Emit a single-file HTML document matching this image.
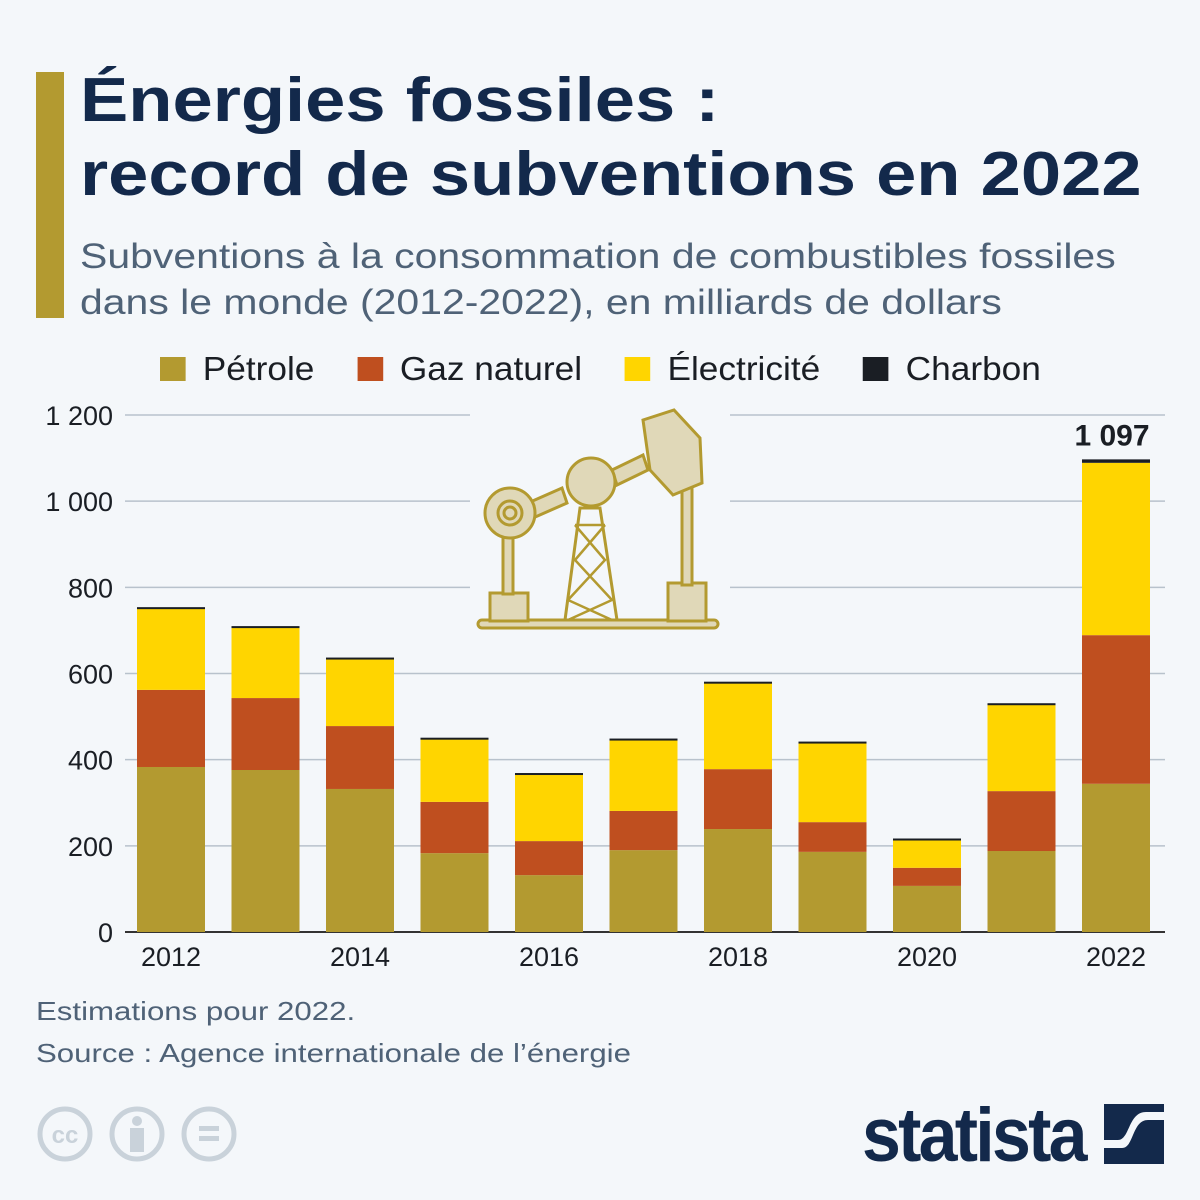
<!DOCTYPE html>
<html><head><meta charset="utf-8"><style>
*{margin:0;padding:0;box-sizing:border-box}
body{width:1200px;height:1200px;background:#f4f7fa;font-family:"Liberation Sans",sans-serif;position:relative;overflow:hidden}
.abs{position:absolute}
</style></head><body>
<div class="abs" style="left:36px;top:72px;width:28px;height:246px;background:#b39a30"></div>
<div class="abs" style="left:80px;top:64px;font-size:62px;font-weight:bold;color:#13294b;line-height:74px;white-space:nowrap;transform:scaleX(1.167);transform-origin:left top">Énergies fossiles :<br>record de subventions en 2022</div>
<div class="abs" style="left:80px;top:234px;font-size:35px;color:#4f6277;line-height:46px;white-space:nowrap;transform:scaleX(1.17);transform-origin:left top">Subventions à la consommation de combustibles fossiles<br>dans le monde (2012-2022), en milliards de dollars</div>
<div class="abs" style="left:160px;top:350px;font-size:33px;color:#1a1e24;display:flex;white-space:nowrap;transform:scaleX(1.068);transform-origin:left top">
 <span style="display:flex;align-items:center;margin-right:40px"><i style="display:inline-block;width:24px;height:24px;background:#b39a30;margin-right:16px"></i>Pétrole</span>
 <span style="display:flex;align-items:center;margin-right:40px"><i style="display:inline-block;width:24px;height:24px;background:#bf4f1f;margin-right:16px"></i>Gaz naturel</span>
 <span style="display:flex;align-items:center;margin-right:40px"><i style="display:inline-block;width:24px;height:24px;background:#ffd500;margin-right:16px"></i>Électricité</span>
 <span style="display:flex;align-items:center"><i style="display:inline-block;width:24px;height:24px;background:#1a1e24;margin-right:16px"></i>Charbon</span>
</div>
<svg class="abs" style="left:0;top:0" width="1200" height="1000">
<g id="grid"></g>
<g id="icon" fill="#e0d8b8" stroke="#b39a30" stroke-width="3">
 <rect x="470" y="400" width="260" height="232" fill="#f4f7fa" stroke="none"/>
 <rect x="478" y="620" width="240" height="8" rx="4"/>
 <rect x="490" y="593" width="38" height="28"/>
 <rect x="668" y="583" width="38" height="38"/>
 <rect x="503" y="520" width="10" height="74"/>
 <rect x="682" y="475" width="10" height="110"/>
 <polygon points="528,503 562,488 567,503 533,518"/>
 <polygon points="612,470 643,455 648,470 617,485"/>
 <polygon points="565,620 580,508 600,508 617,620" fill="none"/>
 <path d="M575,525 L605,560 L568,600 L612,620 M605,525 L575,560 L612,600 L568,620 M575,525 H605" fill="none" stroke-width="2.5"/>
 <circle cx="510" cy="513" r="25"/>
 <circle cx="510" cy="513" r="12" fill="none"/><circle cx="510" cy="513" r="6" fill="none"/>
 <circle cx="591" cy="482" r="24"/>
 <polygon points="643,420 674,410 700,438 702,483 673,495 650,470"/>
</g>
<g id="bars"></g>
<g id="labels"></g>
</svg>
<div class="abs" style="left:36px;top:990px;font-size:26px;color:#4f6277;line-height:42px;white-space:nowrap;transform:scaleX(1.2);transform-origin:left top">Estimations pour 2022.<br>Source : Agence internationale de l’énergie</div>
<svg class="abs" style="left:36px;top:1105px" width="210" height="60">
 <g fill="none" stroke="#c9d2da" stroke-width="5">
  <circle cx="29" cy="29" r="25"/><circle cx="101" cy="29" r="25"/><circle cx="173" cy="29" r="25"/>
 </g>
 <text x="29" y="38" font-size="24" font-weight="bold" fill="#c9d2da" text-anchor="middle" font-family="Liberation Sans">cc</text>
 <circle cx="101" cy="16" r="5" fill="#c9d2da"/><rect x="94" y="23" width="14" height="24" fill="#c9d2da"/>
 <rect x="163" y="21" width="20" height="5" fill="#c9d2da"/><rect x="163" y="31" width="20" height="5" fill="#c9d2da"/>
</svg>
<div class="abs" style="left:862px;top:1092px;font-size:76px;font-weight:bold;color:#13294b;letter-spacing:-3px;transform:scaleX(0.92);transform-origin:left">statista</div>
<svg class="abs" style="left:1104px;top:1104px" width="60" height="60">
 <rect width="60" height="60" fill="#13294b"/>
 <path d="M0,44 H18 C30,44 28,16 44,16 H60 V8 H42 C24,8 26,36 14,36 H0 Z" fill="#f4f7fa"/>
</svg>
<script>
const years=[2012,2013,2014,2015,2016,2017,2018,2019,2020,2021,2022];
const petrole=[383,376,332,183,132,190,239,186,107,188,344];
const gaz=[179,167,146,119,79,91,139,69,42,139,345];
const electricite=[188,165,158,148,156,167,202,186,67,202,400];
const charbon=[4,2,1,1,2,1,1,1,1,2,8];
const yTicks=[0,200,400,600,800,1000,1200];
const yTickLabels=["0","200","400","600","800","1 000","1 200"];
const xTickLabels=["2012","","2014","","2016","","2018","","2020","","2022"];
const totalLabel="1 097";
const NS="http://www.w3.org/2000/svg";
const y0=932,yMax=1200,plotH=517,x0=171,step=94.5,bw=68;
const y=v=>y0-v/yMax*plotH;
const x=i=>x0+i*step;
function mk(t,a,p){const e=document.createElementNS(NS,t);for(const k in a)e.setAttribute(k,a[k]);p.appendChild(e);return e;}
const grid=document.getElementById('grid'),bars=document.getElementById('bars'),labels=document.getElementById('labels');
yTicks.forEach((v,i)=>{
 const l=mk('line',{x1:125,x2:1165,y1:y(v),y2:y(v),stroke:v===0?'#333':'#b8c2cc','stroke-width':v===0?2:1.5},grid);
 
 
 const t=mk('text',{x:113,y:y(v)+10,'text-anchor':'end','font-size':27,fill:'#1a1e24','font-family':'Liberation Sans'},grid);
 t.textContent=yTickLabels[i];
 
 
});
const series=[[petrole,'#b39a30','petrole'],[gaz,'#bf4f1f','gaz'],[electricite,'#ffd500','electricite'],[charbon,'#1a1e24','charbon']];
years.forEach((yr,i)=>{
 let cum=0;
 series.forEach(([arr,c,n])=>{
  const v=arr[i];
  const r=mk('rect',{x:x(i)-bw/2,y:y(cum+v),width:bw,height:Math.max(y(cum)-y(cum+v),n==='charbon'?2:0),fill:c},bars);
  
  
  cum+=v;
 });
 if(xTickLabels[i]){
  const t=mk('text',{x:x(i),y:966,'text-anchor':'middle','font-size':27,fill:'#1a1e24','font-family':'Liberation Sans'},labels);
  t.textContent=xTickLabels[i];
  
  
 }
 if(i===years.length-1){
  const t=mk('text',{x:x(i)-4,y:y(cum)-14,'text-anchor':'middle','font-size':30,'font-weight':'bold',fill:'#1a1e24','font-family':'Liberation Sans'},labels);
  t.textContent=totalLabel;
  
  
 }
});
</script>
</body></html>
